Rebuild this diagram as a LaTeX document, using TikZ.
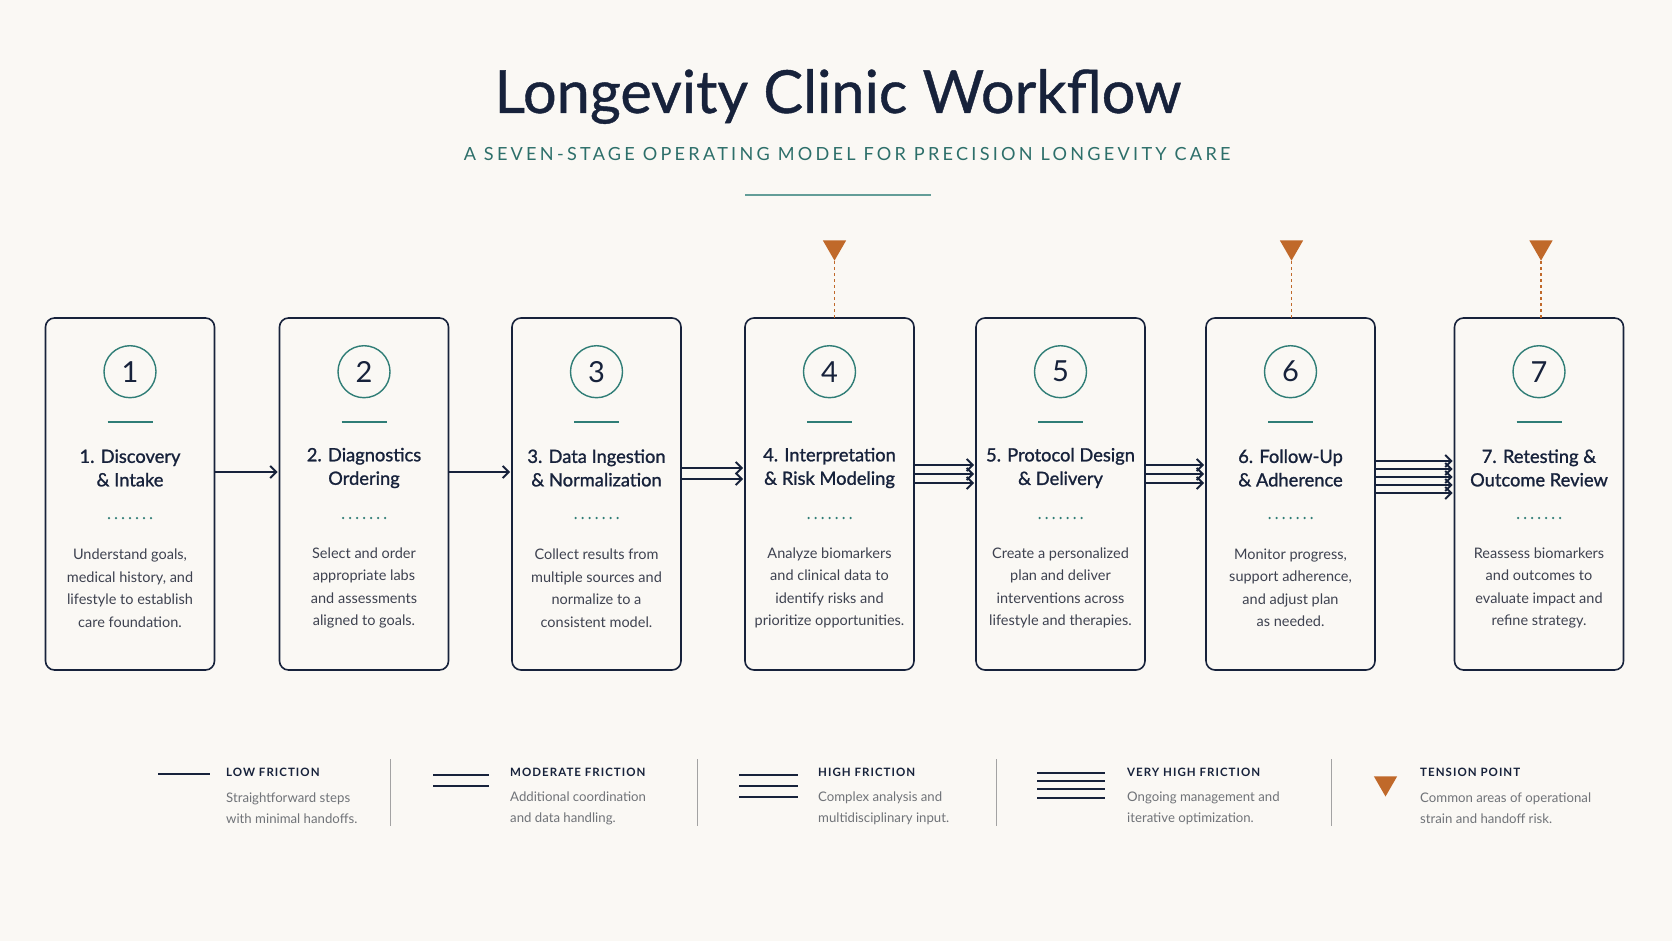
\documentclass[tikz,border=0pt]{standalone}
\usepackage{fontspec}
\setmainfont{Lato}
\newfontfamily\medfont[FakeBold=0.7]{Lato}
\newfontfamily\headfont[FakeBold=1.2]{Lato}
\newfontfamily\capsfont[LetterSpace=18]{Lato}
\newfontfamily\keyfont[LetterSpace=9]{Lato}
\usepackage{xcolor}
\usepackage{tikz}
\usetikzlibrary{arrows.meta,positioning,shapes.geometric}

\definecolor{navy}{HTML}{17223B}
\definecolor{clinicteal}{HTML}{2F7D76}
\definecolor{subteal}{HTML}{2D6F6A}
\definecolor{tensionorange}{HTML}{C0692A}
\definecolor{paper}{HTML}{FAF8F4}
\definecolor{bodygray}{HTML}{3E4250}
\definecolor{keygray}{HTML}{707378}
\definecolor{sepgray}{HTML}{A3A3A3}

\begin{document}
\begin{tikzpicture}[
      x=1pt, y=-1pt,
      node distance=64pt,
      stagebox/.style={rectangle, draw=navy, line width=1.6pt, rounded corners=9pt,
            minimum width=169pt, minimum height=352pt, inner sep=0pt, outer sep=0pt},
      numring/.style={circle, draw=clinicteal, line width=1.4pt, minimum size=52pt,
            inner sep=0pt, text=navy, font=\fontsize{29}{29}\selectfont},
      tealrule/.style={draw=clinicteal, line width=1.6pt},
      dotrow/.style={draw=clinicteal, line width=2.5pt, line cap=round, dash pattern=on 0pt off 7pt},
      stagetitle/.style={align=center, text=navy, inner sep=0pt, font=\headfont\fontsize{18.3}{23.5}\selectfont},
      stagetext/.style={align=center, text=bodygray, inner sep=0pt, font=\fontsize{14.5}{22.5}\selectfont},
      flow/.style={draw=navy, line width=1.9pt, shorten >=2pt,
            -{Straight Barb[length=6pt, width=12pt, line width=1.9pt]}},
      tensionmark/.style={regular polygon, regular polygon sides=3, shape border rotate=180,
            fill=tensionorange, minimum size=27pt, inner sep=0pt},
      tensionline/.style={draw=tensionorange, line width=1.3pt, dash pattern=on 3pt off 3pt},
      keyline/.style={draw=navy, line width=1.8pt},
      keyhead/.style={anchor=west, inner sep=0pt, text=navy, font=\keyfont\bfseries\fontsize{11.5}{14}\selectfont},
      keytext/.style={anchor=west, align=left, inner sep=0pt, text=keygray, font=\fontsize{13.2}{21}\selectfont},
      keysep/.style={draw=sepgray, line width=0.9pt}
]
      \fill[paper] (0,0) rectangle (1672,941);

      % heading
      \node[anchor=base, text=navy, font=\medfont\fontsize{59.5}{60}\selectfont] (title) at (838,113) {Longevity Clinic Workflow};
      \node[anchor=base, text=subteal, font=\capsfont\fontsize{18.1}{18}\selectfont] (subtitle) at (847,161) {A SEVEN-STAGE OPERATING MODEL FOR PRECISION LONGEVITY CARE};
      \draw[tealrule, draw=clinicteal!75] (745,195) -- (931,195);

      % stages
      \node[stagebox] (s1) at (130,494) {};
      \node[stagebox, right=65pt of s1] (s2) {};
      \node[stagebox, right=63.5pt of s2] (s3) {};
      \node[stagebox, right=of s3] (s4) {};
      \node[stagebox, right=62pt of s4] (s5) {};
      \node[stagebox, right=61pt of s5] (s6) {};
      \node[stagebox, right=79.5pt of s6] (s7) {};

      \foreach \i/\head/\body in {
            1/{1. Discovery\\\& Intake}/{Understand goals,\\medical history, and\\lifestyle to establish\\care foundation.},
            2/{2. Diagnostics\\Ordering}/{Select and order\\appropriate labs\\and assessments\\aligned to goals.},
            3/{3. Data Ingestion\\\& Normalization}/{Collect results from\\multiple sources and\\normalize to a\\consistent model.},
            4/{4. Interpretation\\\& Risk Modeling}/{Analyze biomarkers\\and clinical data to\\identify risks and\\prioritize opportunities.},
            5/{5. Protocol Design\\\& Delivery}/{Create a personalized\\plan and deliver\\interventions across\\lifestyle and therapies.},
            6/{6. Follow-Up\\\& Adherence}/{Monitor progress,\\support adherence,\\and adjust plan\\as needed.},
            7/{7. Retesting \&\\Outcome Review}/{Reassess biomarkers\\and outcomes to\\evaluate impact and\\refine strategy.}}{
            \node[numring, below=27pt of s\i.north] (n\i) {\i};
            \draw[tealrule] ([xshift=-22.5pt, yshift=-104pt]s\i.north) -- ++(45,0);
            \node[stagetitle] (h\i) at ([yshift=-150pt]s\i.north) {\head};
            \draw[dotrow] ([xshift=-21pt, yshift=-200pt]s\i.north) -- ++(42.5,0);
            \node[stagetext] (d\i) at ([yshift=-270pt]s\i.north) {\body};
      }

      % hand-offs
      \draw[flow] ([yshift=22pt]s1.east) -- ([yshift=22pt]s2.west);
      \draw[flow] ([yshift=22pt]s2.east) -- ([yshift=22pt]s3.west);
      \foreach \dy in {26,15}
            \draw[flow] ([yshift=\dy pt]s3.east) -- ([yshift=\dy pt]s4.west);
      \foreach \dy in {29,20,11}
            \draw[flow] ([yshift=\dy pt]s4.east) -- ([yshift=\dy pt]s5.west);
      \foreach \dy in {29,20,11}
            \draw[flow] ([yshift=\dy pt]s5.east) -- ([yshift=\dy pt]s6.west);
      \foreach \dy in {33,25,17,9,1}
            \draw[flow] ([yshift=\dy pt]s6.east) -- ([yshift=\dy pt]s7.west);

      % tension points
      \node[tensionmark, above=57pt of s4.north, xshift=5pt] (t4) {};
      \node[tensionmark, above=57pt of s6.north, xshift=1pt] (t6) {};
      \node[tensionmark, above=57pt of s7.north, xshift=2pt] (t7) {};
      \draw[tensionline] (t4.south) -- (t4.south |- s4.north);
      \draw[tensionline] (t6.south) -- (t6.south |- s6.north);
      \draw[tensionline] (t7.south) -- (t7.south |- s7.north);

      % legend
      \draw[keyline] (158,774) -- (210,774);
      \node[keyhead] (k1) at (226,772) {LOW FRICTION};
      \node[keytext] (k1t) at (226,808.5) {Straightforward steps\\with minimal handoffs.};
      \draw[keysep] (390,759) -- (390,826);

      \draw[keyline] (433,775) -- (489,775);
      \draw[keyline] (433,786) -- (489,786);
      \node[keyhead] (k2) at (510,772) {MODERATE FRICTION};
      \node[keytext] (k2t) at (510,808.5) {Additional coordination\\and data handling.};
      \draw[keysep] (697,759) -- (697,826);

      \draw[keyline] (739,775) -- (798,775);
      \draw[keyline] (739,786) -- (798,786);
      \draw[keyline] (739,797) -- (798,797);
      \node[keyhead] (k3) at (818,772) {HIGH FRICTION};
      \node[keytext] (k3t) at (818,808.5) {Complex analysis and\\multidisciplinary input.};
      \draw[keysep] (996,759) -- (996,826);

      \draw[keyline] (1037,773) -- (1105,773);
      \draw[keyline] (1037,781) -- (1105,781);
      \draw[keyline] (1037,789) -- (1105,789);
      \draw[keyline] (1037,798) -- (1105,798);
      \node[keyhead] (k4) at (1127,772) {VERY HIGH FRICTION};
      \node[keytext] (k4t) at (1127,808.5) {Ongoing management and\\iterative optimization.};
      \draw[keysep] (1331,759) -- (1331,826);

      \node[tensionmark] (k5i) at (1385.5,783) {};
      \node[keyhead] (k5) at (1420,772) {TENSION POINT};
      \node[keytext] (k5t) at (1420,808.5) {Common areas of operational\\strain and handoff risk.};
\end{tikzpicture}
\end{document}
